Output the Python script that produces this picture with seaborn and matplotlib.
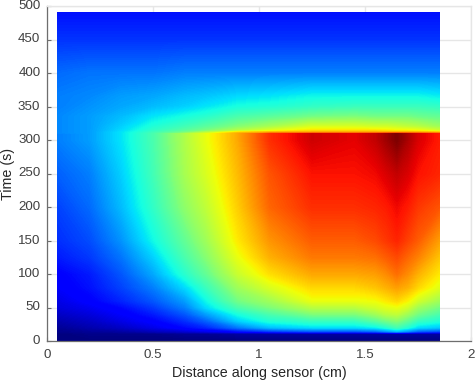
import numpy as np
import pandas as pd
import matplotlib
matplotlib.use('Agg')
import matplotlib.pyplot as plt
import seaborn as sns

# Values (fraction of colour range, jet)
distance = [0.05, 0.2, 0.35, 0.5, 0.65, 0.75, 0.9, 1.05, 1.25, 1.45, 1.55, 1.6, 1.65, 1.7, 1.75, 1.85]
time = [0, 11, 14, 20, 30, 40, 50, 60, 80, 100, 125, 150, 200, 250, 300, 309, 311, 314, 320, 335, 350, 365, 400, 450, 490]

t_0 = [.00, .00, .00, .00, .00, .00, .00, .00, .00, .00, .00, .00, .00, .00, .00, .00]
t_11 = [.00, .01, .01, .01, .02, .02, .03, .03, .03, .03, .03, .03, .03, .03, .03, .03]
t_14 = [.01, .02, .03, .05, .07, .09, .13, .17, .20, .20, .22, .26, .30, .26, .21, .19]
t_20 = [.02, .04, .06, .09, .13, .16, .24, .31, .34, .34, .36, .39, .43, .39, .34, .32]
t_30 = [.04, .06, .09, .12, .17, .22, .33, .39, .42, .42, .46, .49, .51, .47, .42, .39]
t_40 = [.06, .08, .11, .15, .21, .28, .38, .44, .50, .50, .54, .57, .58, .54, .49, .44]
t_50 = [.08, .10, .13, .18, .25, .34, .44, .50, .57, .57, .60, .62, .63, .60, .54, .49]
t_60 = [.09, .12, .16, .21, .28, .37, .49, .54, .63, .63, .64, .66, .68, .65, .60, .54]
t_80 = [.11, .14, .19, .25, .34, .42, .54, .61, .68, .68, .70, .72, .74, .72, .68, .62]
t_100 = [.12, .15, .21, .29, .40, .47, .59, .67, .73, .73, .74, .76, .79, .76, .72, .66]
t_125 = [.15, .18, .24, .33, .44, .51, .63, .72, .78, .78, .79, .81, .83, .80, .77, .70]
t_150 = [.17, .20, .27, .37, .47, .54, .66, .75, .81, .81, .83, .85, .87, .84, .81, .74]
t_200 = [.19, .23, .31, .41, .52, .58, .69, .80, .86, .86, .87, .88, .90, .88, .85, .82]
t_250 = [.22, .25, .33, .43, .55, .61, .71, .82, .89, .89, .90, .92, .94, .92, .89, .87]
t_300 = [.25, .28, .35, .44, .56, .63, .73, .86, .93, .91, .94, .97, 1.0, .96, .92, .88]
t_309 = [.25, .28, .35, .44, .56, .63, .73, .86, .93, .91, .94, .97, 1.0, .96, .92, .88]
t_311 = [.26, .28, .35, .43, .50, .58, .70, .74, .74, .74, .74, .74, .74, .74, .74, .72]
t_314 = [.26, .28, .34, .41, .46, .50, .57, .62, .67, .67, .67, .66, .65, .65, .64, .60]
t_320 = [.26, .28, .33, .39, .43, .46, .51, .55, .61, .61, .60, .60, .59, .58, .57, .54]
t_335 = [.26, .28, .31, .35, .38, .40, .44, .46, .49, .50, .49, .49, .49, .49, .48, .47]
t_350 = [.25, .27, .29, .31, .33, .35, .38, .39, .41, .42, .42, .42, .42, .42, .42, .41]
t_365 = [.25, .26, .28, .29, .31, .32, .34, .35, .37, .37, .37, .37, .37, .37, .37, .36]
t_400 = [.23, .24, .24, .24, .25, .25, .25, .25, .25, .25, .25, .25, .25, .25, .25, .25]
t_450 = [.175, .175, .175, .175, .175, .175, .175, .175, .175, .175, .175, .175, .175, .175, .175, .175]
t_490 = [.14, .14, .14, .14, .14, .14, .14, .14, .14, .14, .14, .14, .14, .14, .14, .14]

values = [t_0, t_11, t_14, t_20, t_30, t_40, t_50, t_60, t_80, t_100, t_125, t_150, t_200,
          t_250, t_300, t_309, t_311, t_314, t_320, t_335, t_350, t_365, t_400, t_450, t_490]
df = pd.DataFrame(values, index=time, columns=distance)

sns.set_theme(style='whitegrid', rc={'font.family': 'Liberation Sans'})
fig = plt.figure(figsize=(4.76, 3.83), dpi=100)
ax = fig.add_axes([47.3 / 476, 42 / 383, 423.7 / 476, 335 / 383])

sns.heatmap(df, cmap='jet', vmin=0, vmax=1, cbar=False, shading='gouraud', ax=ax)
# gouraud blends in RGB and loses the cyan/yellow, so shade over it in value space
ax.contourf(np.arange(len(distance)), np.arange(len(time)), df.values,
            levels=np.linspace(0, 1, 256), cmap='jet', vmin=0, vmax=1)

# The heatmap sits on row/column numbers, so stretch them back to cm and seconds
xi = np.arange(-1, len(distance) + 1)
xv = np.array([0] + distance + [2])
yi = np.arange(len(time) + 1)
yv = np.array(time + [500])
ax.set_xscale('function', functions=(lambda a: np.interp(a, xi, xv), lambda a: np.interp(a, xv, xi)))
ax.set_yscale('function', functions=(lambda a: np.interp(a, yi, yv), lambda a: np.interp(a, yv, yi)))
ax.set_xlim(-1, len(distance))
ax.set_ylim(0, len(time))

x_ticks = [0, 0.5, 1, 1.5, 2]
y_ticks = [0, 50, 100, 150, 200, 250, 300, 350, 400, 450, 500]
ax.set_xticks(np.interp(x_ticks, xv, xi), labels=['0', '0.5', '1', '1.5', '2'], rotation=0)
ax.set_yticks(np.interp(y_ticks, yv, yi), labels=[str(t) for t in y_ticks], rotation=0)
ax.minorticks_off()
ax.set_axisbelow(True)
ax.grid(True, color='#e6e6e6', linewidth=1)
ax.tick_params(axis='both', labelsize=9.6, labelcolor='#404040', direction='in',
               length=3, width=0.8, color='#6e6e6e', left=True, bottom=True)
ax.tick_params(axis='x', pad=6)
ax.tick_params(axis='y', pad=5)
ax.set_xlabel('Distance along sensor (cm)', fontsize=10.3, color='#262626', labelpad=3)
ax.set_ylabel('Time (s)', fontsize=10.3, color='#262626', labelpad=2)

for side in ['left', 'bottom']:
    ax.spines[side].set(visible=True, color='#6e6e6e', linewidth=0.9)
for side in ['top', 'right']:
    ax.spines[side].set(visible=True, color='#e6e6e6', linewidth=1)

fig.savefig('out.png', dpi=100)
